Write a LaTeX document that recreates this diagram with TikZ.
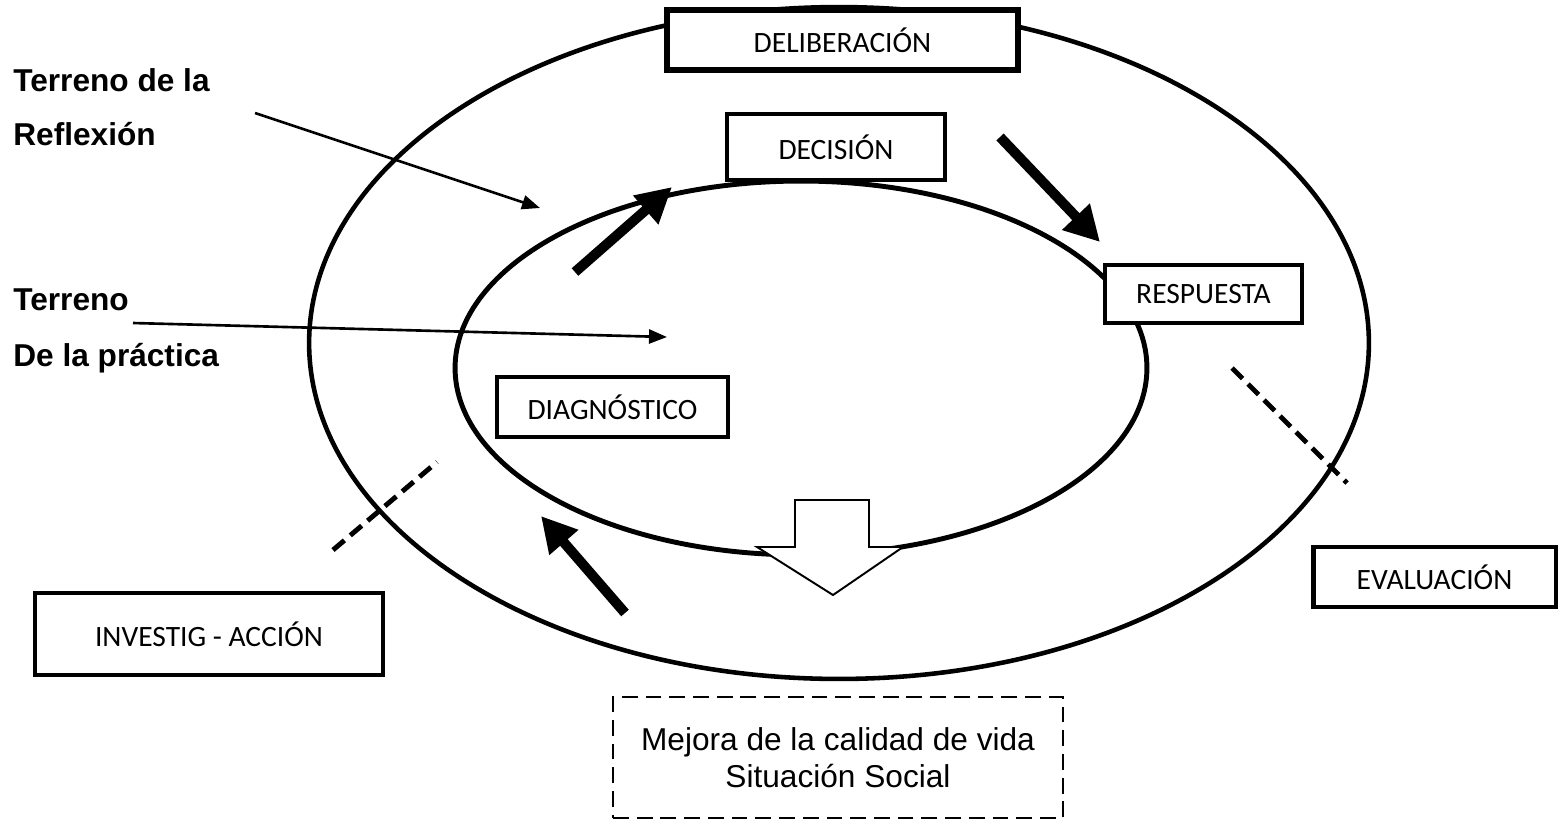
\documentclass[tikz,border=0pt]{standalone}
\usepackage{fontspec}
\setmainfont{Carlito}
\newfontfamily\arialfont{Liberation Sans}
\usetikzlibrary{arrows.meta}
\tikzstyle{etapa} = [rectangle, draw, fill=white, line width=2.8pt, text centered, inner sep=0pt, font=\fontsize{16.8}{20}\selectfont]
\tikzstyle{terreno} = [anchor=base west, inner sep=0pt, font=\arialfont\bfseries\fontsize{18}{22}\selectfont]
\tikzstyle{flecha} = [line width=5.7pt, -{Triangle[length=0.7cm, width=0.72cm]}]
\tikzstyle{senal} = [line width=1.5pt, -{Triangle[length=0.36cm, width=0.28cm]}]
\tikzstyle{corte} = [line width=2.8pt, dash pattern=on 8.5pt off 4.4pt]

\begin{document}
\begin{tikzpicture}[x=0.02cm, y=-0.02cm]
        \useasboundingbox (0, 0) rectangle (1558, 823);

        % anillos
        \draw[line width=2.6pt] (839, 343) ellipse [x radius=10.6cm, y radius=6.72cm];
        \draw[line width=2.8pt] (801, 368) ellipse [x radius=6.92cm, y radius=3.74cm];

        \node[etapa, minimum width=7.02cm, minimum height=1.2cm, line width=3.2pt] at (842.5, 40) (Deliberacion) {DELIBERACIÓN};
        \node[etapa, minimum width=4.36cm, minimum height=1.32cm] at (836, 147) (Decision) {DECISIÓN};
        \node[etapa, minimum width=3.94cm, minimum height=1.16cm] at (1203.5, 294) (Respuesta) {RESPUESTA};
        \node[etapa, minimum width=4.62cm, minimum height=1.2cm] at (612.5, 407) (Diagnostico) {DIAGNÓSTICO};
        \node[etapa, minimum width=4.86cm, minimum height=1.2cm] at (1434.5, 577) (Evaluacion) {EVALUACIÓN};
        \node[etapa, minimum width=6.96cm, minimum height=1.64cm] at (209, 634) (InvestigAccion) {INVESTIG - ACCIÓN};
        \node[rectangle, draw, dash pattern=on 9pt off 4.5pt, line width=1.1pt, minimum width=9cm, minimum height=2.42cm, align=center, font=\arialfont\fontsize{18}{21}\selectfont] at (838, 757.5) (Mejora) {Mejora de la calidad de vida\\Situación Social};

        \node[terreno] at (13, 91) (TerrenoRefl) {Terreno de la};
        \node[terreno] at (13, 145) (Reflexion) {Reflexión};
        \node[terreno] at (13, 310) (TerrenoPrac) {Terreno};
        \node[terreno] at (13, 366) (Practica) {De la práctica};

        \coordinate (ReflexionIni) at (255, 113);
        \coordinate (ReflexionFin) at (540, 208);
        \coordinate (PracticaIni) at (133, 323);
        \coordinate (PracticaFin) at (667, 337);
        \draw[senal] (ReflexionIni) -- (ReflexionFin);
        \draw[senal] (PracticaIni) -- (PracticaFin);

        % ciclo
        \coordinate (HaciaDecision) at (575, 272);
        \coordinate (DecisionFin) at (672, 187);
        \coordinate (HaciaRespuesta) at (1000, 137);
        \coordinate (RespuestaFin) at (1100, 242);
        \coordinate (HaciaDiagnostico) at (625, 613);
        \coordinate (DiagnosticoFin) at (541, 516);
        \draw[flecha] (HaciaDecision) -- (DecisionFin);
        \draw[flecha] (HaciaRespuesta) -- (RespuestaFin);
        \draw[flecha] (HaciaDiagnostico) -- (DiagnosticoFin);

        \coordinate (CorteA) at (333, 550);
        \coordinate (CorteB) at (437, 462);
        \coordinate (CorteC) at (1232, 368);
        \coordinate (CorteD) at (1347, 483);
        \draw[corte] (CorteA) -- (CorteB);
        \draw[corte] (CorteC) -- (CorteD);

        \draw[line width=1.1pt, fill=white] (795, 500) -- (869, 500) -- (869, 547) -- (903, 547) -- (833, 595) -- (757, 547) -- (795, 547) -- cycle;
    \end{tikzpicture}
\end{document}
